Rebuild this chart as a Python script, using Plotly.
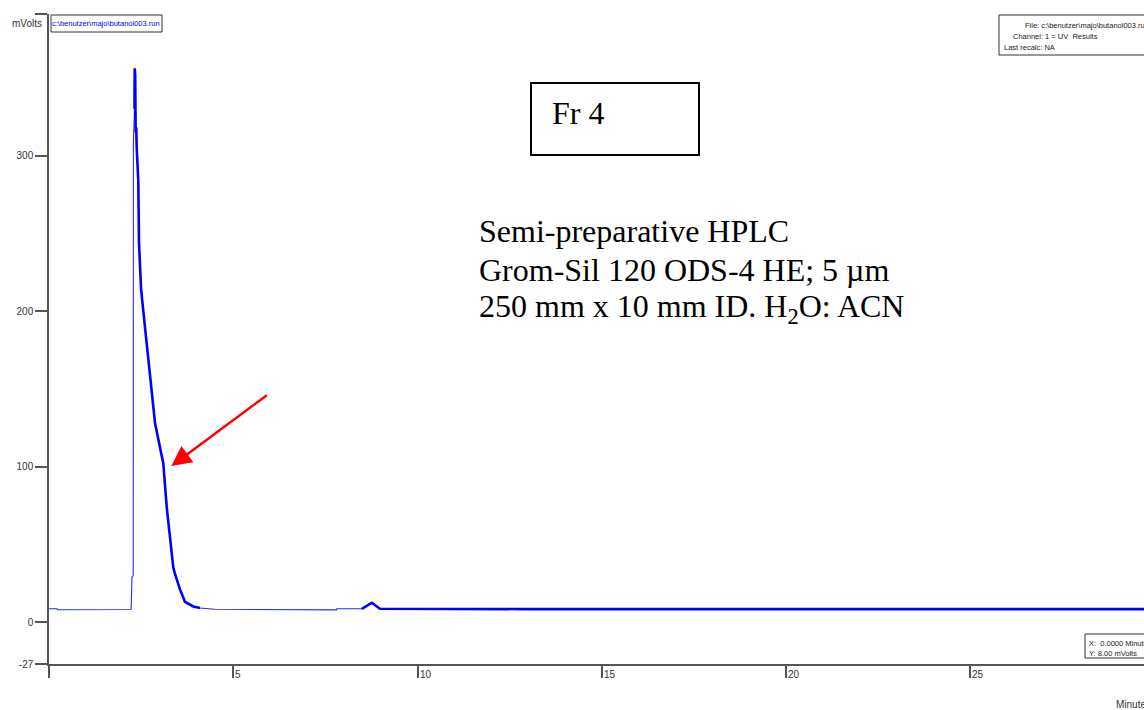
import plotly.graph_objects as go

# ---- data ----
time_min = [0.00, 0.22, 0.23, 2.225, 2.233, 2.252, 2.286, 2.29, 2.32, 2.325, 2.339, 2.352,
            2.368, 2.38, 2.423, 2.442, 2.469, 2.497, 2.524, 2.564, 2.624, 2.741, 2.877,
            3.058, 3.102, 3.194, 3.284, 3.373, 3.419, 3.555, 3.69, 3.916, 4.098, 4.5,
            7.80, 7.81, 8.49, 8.62, 8.70, 8.76, 8.85, 8.98, 12.9, 26.9, 28.06, 29.76]
signal_mv = [8.5, 8.5, 7.9, 8.0, 11, 29, 30, 308, 330, 356, 352, 315,
             318, 305, 284, 244, 222, 215, 208, 199, 188, 160, 128,
             107, 102, 74, 53, 35, 31, 21, 13, 10, 9, 8.2,
             7.8, 8.5, 8.5, 10.5, 11.5, 12.4, 10.8, 8.5, 8.3, 8.3, 8.3, 8.3]

x_tick_vals = [0, 5, 10, 15, 20, 25]
x_tick_text = ["", "5", "10", "15", "20", "25"]
y_tick_vals = [-27, 0, 100, 200, 300, 391]
y_tick_text = ["-27", "0", "100", "200", "300", ""]

# ranges drawn with a heavier (noisy) trace
heavy_ranges = [(2.32, 4.1), (8.49, 8.98), (12.9, 26.9), (28.06, 29.76)]

W, H = 1144, 710
L, R, T, B = 49, 0, 14, 46
PW, PH = W - L - R, H - T - B


def px(x):
    return (x - L) / PW


def py(y):
    return (H - B - y) / PH


heavy_y = []
for t, v in zip(time_min, signal_mv):
    heavy_y.append(v if any(a <= t <= b for a, b in heavy_ranges) else None)

fig = go.Figure()
fig.add_trace(go.Scatter(x=time_min, y=signal_mv, mode="lines",
                         line=dict(color="#2a2aff", width=1.1), hoverinfo="skip"))
fig.add_trace(go.Scatter(x=time_min, y=heavy_y, mode="lines",
                         line=dict(color="#0000ff", width=2.6), connectgaps=False,
                         hoverinfo="skip"))

axis_col = "#555555"
fig.update_layout(
    width=W, height=H,
    margin=dict(l=L, r=R, t=T, b=B, pad=0),
    paper_bgcolor="white", plot_bgcolor="white",
    showlegend=False,
    xaxis=dict(range=[0, PW / 36.85], showgrid=False, zeroline=False,
               showline=True, linecolor=axis_col, linewidth=1.5,
               ticks="outside", ticklen=12, tickwidth=1.5, tickcolor=axis_col,
               tickvals=x_tick_vals, ticktext=x_tick_text, showticklabels=False),
    yaxis=dict(range=[-27, 391], showgrid=False, zeroline=False,
               showline=True, linecolor=axis_col, linewidth=1.5,
               ticks="outside", ticklen=12, tickwidth=1.5, tickcolor=axis_col,
               tickvals=y_tick_vals, ticktext=y_tick_text,
               tickfont=dict(family="Liberation Sans", size=10, color="#333333")),
)

ann = []
# x tick labels, placed right of each tick like the original software
for v, s in zip(x_tick_vals, x_tick_text):
    if s:
        ann.append(dict(x=v, y=0, xref="x", yref="paper", text=s, showarrow=False,
                        xanchor="left", yanchor="top", xshift=0, yshift=-3,
                        font=dict(family="Liberation Sans", size=10, color="#333333")))

small = dict(family="Liberation Sans", size=7.5, color="#222222")
ann += [
    dict(x=px(27), y=py(24), xref="paper", yref="paper", text="mVolts", showarrow=False,
         xanchor="center", yanchor="middle",
         font=dict(family="Liberation Sans", size=10, color="#333333")),
    dict(x=px(106), y=py(24), xref="paper", yref="paper",
         text="c:\\benutzer\\majo\\butanol003.run", showarrow=False,
         xanchor="center", yanchor="middle",
         font=dict(family="Liberation Sans", size=7.5, color="#0000ff")),
    dict(x=px(1023), y=py(25), xref="paper", yref="paper",
         text="File: c:\\benutzer\\majo\\butanol003.run", showarrow=False,
         xanchor="left", yanchor="middle", font=small),
    dict(x=px(1011), y=py(36), xref="paper", yref="paper",
         text="Channel: 1 = UV  Results", showarrow=False,
         xanchor="left", yanchor="middle", font=small),
    dict(x=px(1002), y=py(47), xref="paper", yref="paper",
         text="Last recalc: NA", showarrow=False,
         xanchor="left", yanchor="middle", font=small),
    dict(x=px(1087), y=py(643), xref="paper", yref="paper",
         text="X:  0.0000 Minutes", showarrow=False,
         xanchor="left", yanchor="middle", font=small),
    dict(x=px(1087), y=py(653), xref="paper", yref="paper",
         text="Y: 8.00 mVolts", showarrow=False,
         xanchor="left", yanchor="middle", font=small),
    dict(x=px(1114), y=py(704), xref="paper", yref="paper",
         text="Minutes", showarrow=False,
         xanchor="left", yanchor="middle",
         font=dict(family="Liberation Sans", size=10, color="#333333")),
    dict(x=px(550), y=py(113), xref="paper", yref="paper", text="Fr 4", showarrow=False,
         xanchor="left", yanchor="middle",
         font=dict(family="Liberation Serif", size=32, color="black")),
]
serif = dict(family="Liberation Serif", size=32, color="black")
for txt, yy in [("Semi-preparative HPLC", 231),
                ("Grom-Sil 120 ODS-4 HE; 5 µm", 270),
                ("250 mm x 10 mm ID. H<sub>2</sub>O: ACN", 308)]:
    ann.append(dict(x=px(477), y=py(yy), xref="paper", yref="paper", text=txt,
                    showarrow=False, xanchor="left", yanchor="middle", font=serif))

# red arrow pointing at the peak tail
ann.append(dict(x=3.32, y=100.3, xref="x", yref="y", text="", showarrow=True,
                ax=97, ay=-72, axref="pixel", ayref="pixel",
                arrowhead=2, arrowsize=1.6, arrowwidth=2.5, arrowcolor="#ff0000",
                standoff=0))
fig.update_layout(annotations=ann)

shapes = [
    dict(type="rect", xref="paper", yref="paper", x0=px(531), x1=px(699),
         y0=py(155), y1=py(83), line=dict(color="black", width=2)),
    dict(type="rect", xref="paper", yref="paper", x0=px(51), x1=px(162),
         y0=py(32), y1=py(15), line=dict(color="#333333", width=1)),
    dict(type="rect", xref="paper", yref="paper", x0=px(999), x1=px(1160),
         y0=py(55), y1=py(15), line=dict(color="#333333", width=1)),
    dict(type="rect", xref="paper", yref="paper", x0=px(1085), x1=px(1160),
         y0=py(658), y1=py(634), line=dict(color="#333333", width=1)),
]
fig.update_layout(shapes=shapes)

fig.write_html("out.html")
